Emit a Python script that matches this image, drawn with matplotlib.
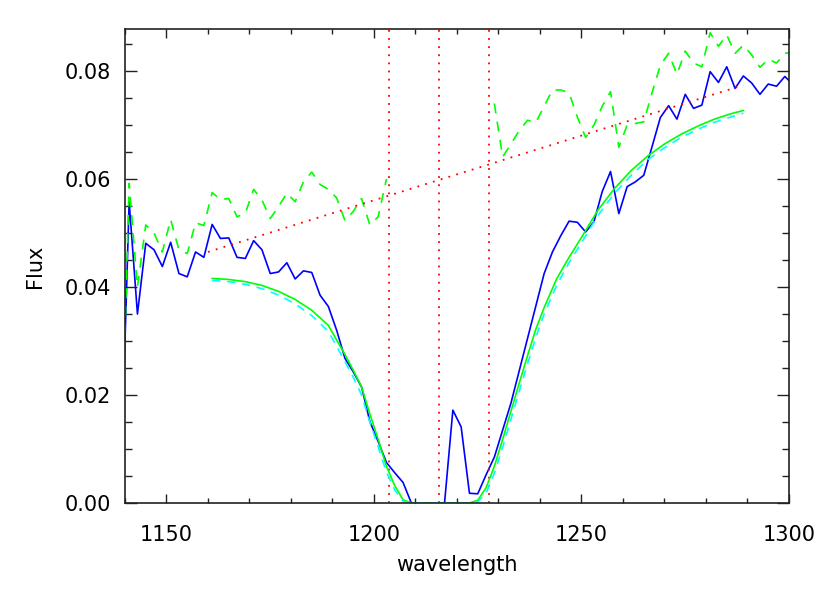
import numpy as np
import matplotlib
matplotlib.use('Agg')
import matplotlib.pyplot as plt
from matplotlib.ticker import MultipleLocator

# observed spectrum, 2 A bins
wave = np.arange(1139, 1302, 2)
flux = [0.0040, 0.0558, 0.0350, 0.0481, 0.0469, 0.0438, 0.0483, 0.0425, 0.0419, 0.0465,
        0.0455, 0.0516, 0.0490, 0.0491, 0.0455, 0.0453, 0.0486, 0.0469, 0.0425, 0.0428,
        0.0445, 0.0415, 0.0430, 0.0427, 0.0385, 0.0364, 0.0320, 0.0268, 0.0243, 0.0215,
        0.0151, 0.0114, 0.0075, 0.0056, 0.0038, 0.0000, 0.0000, 0.0000, 0.0000, 0.0000,
        0.0172, 0.0141, 0.0018, 0.0017, 0.0052, 0.0085, 0.0135, 0.0185, 0.0245, 0.0305,
        0.0365, 0.0425, 0.0465, 0.0495, 0.0522, 0.0520, 0.0502, 0.0521, 0.0577, 0.0614,
        0.0536, 0.0586, 0.0595, 0.0607, 0.0660, 0.0714, 0.0736, 0.0711, 0.0757, 0.0731,
        0.0737, 0.0799, 0.0779, 0.0808, 0.0768, 0.0791, 0.0778, 0.0757, 0.0776, 0.0772,
        0.0790, 0.0775]

# corrected spectrum (green dashed), masked around the line core
flux_corr = [0.0040, 0.0592, 0.0400, 0.0515, 0.0500, 0.0465, 0.0525, 0.0469, 0.0462, 0.0519,
             0.0514, 0.0575, 0.0562, 0.0564, 0.0530, 0.0537, 0.0581, 0.0561, 0.0527, 0.0549,
             0.0574, 0.0558, 0.0595, 0.0613, 0.0590, 0.0581, 0.0565, 0.0523, 0.0540, 0.0564,
             0.0515, 0.0530, 0.0600, np.nan, np.nan, np.nan, np.nan, np.nan, np.nan, np.nan,
             np.nan, np.nan, np.nan, np.nan, np.nan, 0.0740, 0.0641, 0.0665, 0.0690, 0.0709,
             0.0705, 0.0735, 0.0765, 0.0765, 0.0760, 0.0715, 0.0677, 0.0700, 0.0735, 0.0762,
             0.0659, 0.0700, 0.0703, 0.0706, 0.0760, 0.0811, 0.0833, 0.0794, 0.0837, 0.0815,
             0.0808, 0.0871, 0.0846, 0.0867, 0.0833, 0.0848, 0.0830, 0.0807, 0.0822, 0.0815,
             0.0833, 0.0835]

# continuum
cont_wave = [1160, 1289]
cont_flux = [0.0465, 0.0774]

# absorption fits
fit_wave = [1161, 1165, 1169, 1173, 1177, 1181, 1185, 1189, 1193, 1195, 1197, 1199, 1201,
            1203, 1205, 1207, 1209, 1223, 1225, 1227, 1229, 1231, 1233, 1235, 1237, 1239,
            1241, 1244, 1247, 1250, 1254, 1258, 1262, 1266, 1270, 1274, 1278, 1282, 1286, 1289]
fit1 = [0.0416, 0.0414, 0.0410, 0.0403, 0.0392, 0.0377, 0.0357, 0.0329, 0.0275, 0.0246,
        0.0215, 0.0165, 0.0118, 0.0068, 0.0032, 0.0006, 0.0000, 0.0000, 0.0005, 0.0028,
        0.0068, 0.0118, 0.0170, 0.0222, 0.0273, 0.0322, 0.0362, 0.0415, 0.0455, 0.0492,
        0.0543, 0.0583, 0.0616, 0.0643, 0.0665, 0.0683, 0.0698, 0.0711, 0.0721, 0.0727]
fit2 = [0.0412, 0.0410, 0.0405, 0.0397, 0.0385, 0.0369, 0.0347, 0.0318, 0.0262, 0.0233,
        0.0200, 0.0150, 0.0104, 0.0057, 0.0024, 0.0003, 0.0000, 0.0000, 0.0002, 0.0018,
        0.0055, 0.0103, 0.0155, 0.0207, 0.0258, 0.0307, 0.0350, 0.0403, 0.0445, 0.0482,
        0.0533, 0.0574, 0.0607, 0.0636, 0.0658, 0.0677, 0.0692, 0.0705, 0.0715, 0.0722]

# Lya centre and window edges
vlines = [1203.67, 1215.67, 1227.67]

plt.rcParams['font.family'] = 'DejaVu Sans'
fig = plt.figure(figsize=(8.3, 5.93), dpi=100)
ax = fig.add_axes([0.1506, 0.1518, 0.8, 0.7993])

ax.plot(wave, flux, color='#0000ff', lw=1.2)
ax.plot(wave, flux_corr, color='#00ff00', lw=1.2, dashes=(6, 5))
ax.plot(cont_wave, cont_flux, color='#ff0000', lw=1.3, dashes=(1, 3.5))
for v in vlines:
    ax.axvline(v, color='#ff0000', lw=1.3, dashes=(1, 3.5))
ax.plot(fit_wave, fit1, color='#00ff00', lw=1.2)
ax.plot(fit_wave, fit2, color='#00ffff', lw=1.2, dashes=(5, 4))

ax.set_xlim(1140, 1300)
ax.set_ylim(0, 0.0878)
ax.xaxis.set_major_locator(MultipleLocator(50))
ax.xaxis.set_minor_locator(MultipleLocator(10))
ax.yaxis.set_major_locator(MultipleLocator(0.02))
ax.yaxis.set_minor_locator(MultipleLocator(0.005))
ax.yaxis.set_major_formatter(matplotlib.ticker.FormatStrFormatter('%.2f'))

ax.tick_params(which='both', direction='in', top=True, right=True, colors='#222222',
               labelcolor='black', labelsize=15, width=1)
ax.tick_params(axis='x', which='major', length=6.5, pad=16)
ax.tick_params(axis='x', which='minor', length=3.6)
ax.tick_params(axis='y', which='major', length=8.6, pad=10)
ax.tick_params(axis='y', which='minor', length=5)
for s in ax.spines.values():
    s.set_linewidth(1.2)
    s.set_color('#222222')

ax.set_xlabel('wavelength', fontsize=15, labelpad=7)
ax.set_ylabel('Flux', fontsize=15, labelpad=14)

fig.savefig('out.png', dpi=100)
